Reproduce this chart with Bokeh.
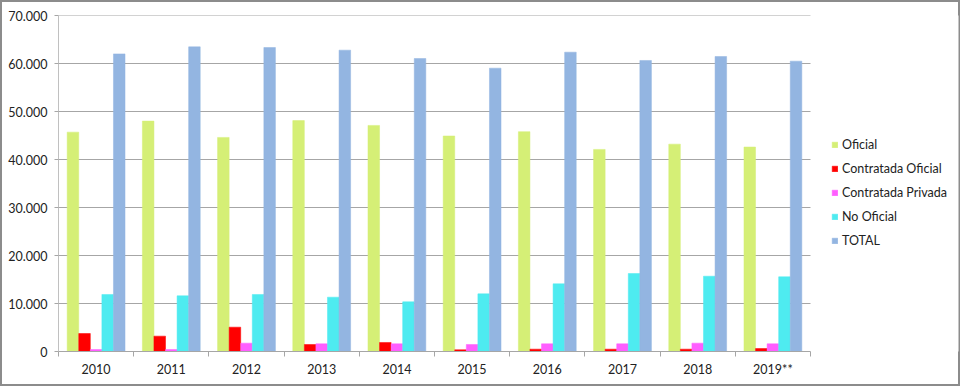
import numpy as np
from bokeh.plotting import figure
from bokeh.models import (ColumnDataSource, FixedTicker, Legend, LegendItem, Range1d)
from bokeh.embed import file_html
from bokeh.resources import INLINE

years = ["2010", "2011", "2012", "2013", "2014", "2015", "2016", "2017", "2018", "2019**"]
oficial = [45700, 48000, 44600, 48100, 47100, 44900, 45800, 42100, 43200, 42600]
contratada_oficial = [3750, 3200, 5070, 1460, 1880, 350, 490, 490, 490, 620]
contratada_privada = [400, 400, 1740, 1600, 1600, 1460, 1600, 1600, 1740, 1600]
no_oficial = [11880, 11600, 11880, 11320, 10350, 12010, 14100, 16250, 15690, 15560]
total = [62000, 63470, 63330, 62780, 61040, 59030, 62360, 60630, 61460, 60490]

series_names = ["Oficial", "Contratada Oficial", "Contratada Privada", "No Oficial", "TOTAL"]
series_values = [oficial, contratada_oficial, contratada_privada, no_oficial, total]
colors = ["#D5EF76", "#FF0000", "#FF5EFF", "#4EEBF0", "#93B5E1"]

y_ticks = [0, 10000, 20000, 30000, 40000, 50000, 60000, 70000]
y_tick_labels = ["0", "10.000", "20.000", "30.000", "40.000", "50.000", "60.000", "70.000"]

FONT = "Lato"
n = len(years)
bar_w = 1.0 / 6.5

W, H = 960, 386
LEFT, TOP, BOTTOM, RIGHT = 58, 15, 35, 2
PLOT_W = 752                      # width of the bar area (Excel plot area)
FRAME_W = W - LEFT - RIGHT        # frame also hosts the legend
x_end = n * FRAME_W / PLOT_W

p = figure(width=W, height=H, output_backend="svg", toolbar_location=None,
           x_range=Range1d(0, x_end), y_range=Range1d(0, 70000),
           min_border_left=LEFT, min_border_right=RIGHT, min_border_top=TOP,
           min_border_bottom=BOTTOM)
p.outline_line_color = None
p.background_fill_color = "white"
p.border_fill_alpha = 0
p.styles = {"box-shadow": "inset 0 0 0 2px #8C8C8C", "background-color": "white"}

# gridlines restricted to the bar area
p.segment(x0=0, x1=n, y0=y_ticks[1:], y1=y_ticks[1:], line_color="#A6A6A6", line_width=1)

idx = np.arange(n)
renderers = []
for i, (name, vals, col) in enumerate(zip(series_names, series_values, colors)):
    src = ColumnDataSource(dict(x=idx + 0.5 + (i - 2) * bar_w, top=vals))
    r = p.vbar(x="x", top="top", width=bar_w, bottom=0, source=src,
               fill_color=col, line_color=col, line_width=0.5)
    renderers.append((name, r))

# Y axis
p.yaxis.ticker = FixedTicker(ticks=y_ticks)
p.yaxis.major_label_overrides = {t: l for t, l in zip(y_ticks, y_tick_labels)}
p.yaxis.axis_line_color = "#C0C0C0"
p.yaxis.major_tick_line_color = "#A6A6A6"
p.yaxis.major_tick_in = 0
p.yaxis.major_tick_out = 4
p.yaxis.minor_tick_line_color = None
p.yaxis.major_label_standoff = 7
p.yaxis.major_label_text_font = FONT
p.yaxis.major_label_text_font_size = "12.5px"
p.yaxis.major_label_text_color = "#222222"

# X axis: labels at centers, tick marks at boundaries
p.xaxis.bounds = (0, n)
p.xaxis.ticker = FixedTicker(ticks=list(idx + 0.5), minor_ticks=list(range(n + 1)))
p.xaxis.major_label_overrides = {float(i + 0.5): y for i, y in enumerate(years)}
p.xaxis.major_tick_line_color = None
p.xaxis.major_tick_in = 0
p.xaxis.major_tick_out = 0
p.xaxis.minor_tick_line_color = "#A6A6A6"
p.xaxis.minor_tick_in = 0
p.xaxis.minor_tick_out = 5
p.xaxis.axis_line_color = "#A6A6A6"
p.xaxis.major_label_standoff = 5
p.xaxis.major_label_text_font = FONT
p.xaxis.major_label_text_font_size = "12.5px"
p.xaxis.major_label_text_color = "#222222"

p.xgrid.grid_line_color = None
p.ygrid.grid_line_color = None

legend = Legend(items=[LegendItem(label=nm, renderers=[r]) for nm, r in renderers],
                location=(773, 101), orientation="vertical",
                glyph_width=7, glyph_height=7, label_height=20, spacing=4,
                label_standoff=4, padding=0, margin=0,
                border_line_color=None, background_fill_alpha=0,
                label_text_font=FONT, label_text_font_size="12.5px",
                label_text_color="#222222")
p.add_layout(legend, "center")

open("out.html", "w").write(file_html(p, INLINE))
